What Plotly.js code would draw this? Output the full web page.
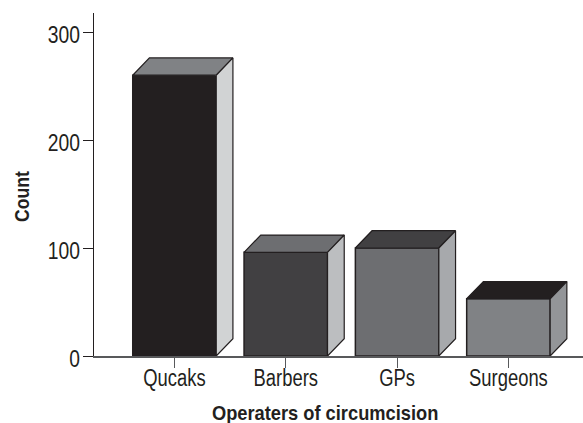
<!DOCTYPE html>
<html>
<head>
<meta charset="utf-8">
<script src="https://cdn.plot.ly/plotly-3.0.1.min.js"></script>
<style>html,body{margin:0;padding:0;background:#fff}</style>
</head>
<body>
<div id="chart" style="width:583px;height:423px"></div>
<script>
const categories = ["Qucaks", "Barbers", "GPs", "Surgeons"];
const counts = [260, 96, 100, 53];
const yTicks = [0, 100, 200, 300];
const xTitle = "Operaters of circumcision";
const yTitle = "Count";
const frontColors = ["#231f20", "#414042", "#6d6e71", "#808285"];
const topColors = ["#808285", "#6d6e71", "#414042", "#231f20"];
const sideColors = ["#d1d3d4", "#bcbec0", "#a7a9ac", "#939598"];
const positions = [0, 1, 2, 3];
const barWidth = 0.75;
const depthX = 0.15;
const depthY = 16;
const ink = "#231f20";
const face = "'Liberation Sans',sans-serif";

const traces = [{
  type: "bar", x: positions, y: counts, width: barWidth,
  marker: {color: frontColors, line: {color: ink, width: 1.5}},
  hoverinfo: "skip", showlegend: false
}];
positions.forEach(function (p, i) {
  const l = p - barWidth / 2, r = p + barWidth / 2, v = counts[i];
  traces.push({
    type: "scatter", mode: "lines", fill: "toself", fillcolor: topColors[i],
    x: [l, l + depthX, r + depthX, r, l],
    y: [v, v + depthY, v + depthY, v, v],
    line: {color: ink, width: 1.2}, hoverinfo: "skip", showlegend: false
  });
  traces.push({
    type: "scatter", mode: "lines", fill: "toself", fillcolor: sideColors[i],
    x: [r, r + depthX, r + depthX, r, r],
    y: [v, v + depthY, depthY, 0, v],
    line: {color: ink, width: 1.2}, hoverinfo: "skip", showlegend: false
  });
});

const layout = {
  width: 583, height: 423,
  margin: {l: 93.5, r: 0, t: 13, b: 67},
  paper_bgcolor: "#fff", plot_bgcolor: "#fff",
  font: {family: face, color: ink, size: 22},
  showlegend: false,
  xaxis: {
    range: [-0.723, 3.67], tickmode: "array", tickvals: positions, ticktext: categories,
    showgrid: false, zeroline: false, showline: true, linecolor: "#58595b", linewidth: 1.5,
    ticks: "outside", ticklen: 10, tickwidth: 1, tickcolor: "#58595b",
    ticklabelstandoff: -9,
    tickfont: {size: 23, family: face, color: ink}
  },
  yaxis: {
    range: [0, 317.6], tickmode: "array", tickvals: yTicks,
    showgrid: false, zeroline: false, showline: true, linecolor: ink, linewidth: 1.5,
    ticks: "outside", ticklen: 10, tickwidth: 1, tickcolor: ink,
    ticklabelstandoff: -2,
    tickfont: {size: 23, family: face, color: ink}
  },
  annotations: [
    {text: xTitle, xref: "paper", yref: "paper", x: 0.4728, y: -0.1655, xanchor: "center", yanchor: "middle",
     showarrow: false, font: {size: 21, family: face, color: ink, weight: "bold"}},
    {text: yTitle, xref: "paper", yref: "paper", x: -0.1486, y: 0.465, xanchor: "center", yanchor: "middle",
     textangle: -90, showarrow: false, font: {size: 21, family: face, color: ink, weight: "bold"}}
  ]
};

function condense(el, factor) {
  const len = el.getComputedTextLength();
  el.setAttribute("textLength", (len * factor).toFixed(1));
  el.setAttribute("lengthAdjust", "spacingAndGlyphs");
}

Plotly.newPlot("chart", traces, layout, {displayModeBar: false, staticPlot: true}).then(function (gd) {
  gd.querySelectorAll(".xtick text").forEach(function (t) { condense(t, 0.80); });
  gd.querySelectorAll(".ytick text").forEach(function (t) { condense(t, 0.84); t.setAttribute("dy", "3"); });
  gd.querySelectorAll(".annotation-text").forEach(function (t) { condense(t, t.textContent === yTitle ? 0.84 : 0.87); });
});
</script>
</body>
</html>
